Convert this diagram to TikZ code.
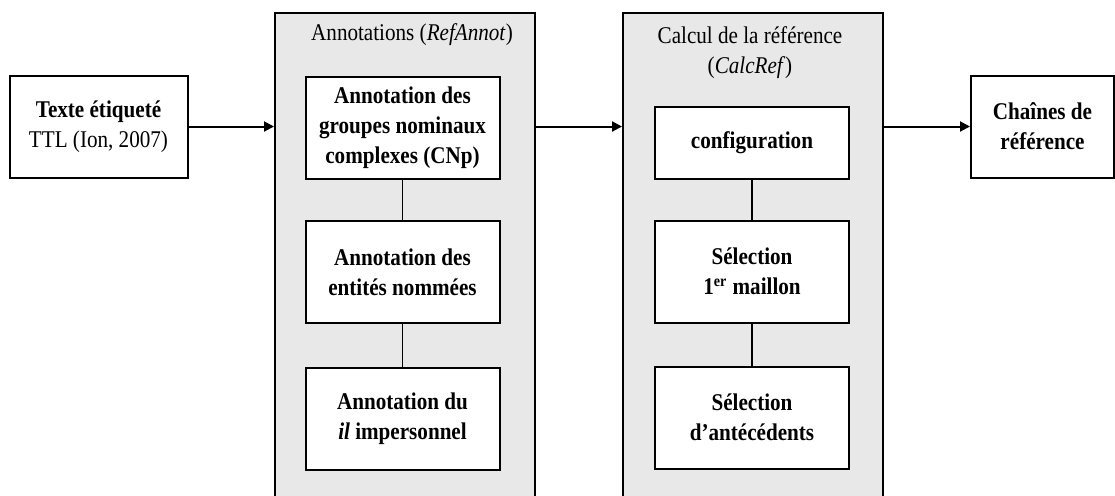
\documentclass[tikz,border=0pt]{standalone}
\usepackage{fontspec}
\setmainfont{Liberation Serif}[FakeStretch=0.88]
\usetikzlibrary{arrows.meta,positioning}

\tikzset{
  stepbox/.style={draw, line width=1pt, fill=white, align=center,
    inner sep=2pt, font=\fontsize{12}{15}\selectfont\bfseries},
  group/.style={draw, line width=1pt, fill=black!9, anchor=north,
    minimum width=130pt, minimum height=250pt},
  grouptitle/.style={align=center, font=\fontsize{12}{15}\selectfont},
  flow/.style={line width=1pt, -{Triangle[length=5pt,width=5pt]}},
  link/.style={line width=0.6pt}
}

\begin{document}
\begin{tikzpicture}[x=0.5pt,y=-0.5pt,on grid]
 \useasboundingbox (0,0) rectangle (1115,495);
 \clip (0,0) rectangle (1115,495);
 % input and output
 \node[stepbox,minimum width=89pt,minimum height=51pt] (input) at (98.5,126.5)
   {Texte étiqueté\\\mdseries TTL (Ion, 2007)};
 \node[stepbox,minimum width=71.5pt,minimum height=51pt] (output) at (1042.5,126.5)
   {Chaînes de\\référence};
 % the two modules
 \node[group] (annot) at (405,12) {};
 \node[group] (calc) at (753,12) {};
 \node[grouptitle] (annottitle) at (412,35) {Annotations (\textit{RefAnnot})};
 \node[grouptitle] (calctitle) at (750,53) {Calcul de la référence\\(\textit{CalcRef})};
 % RefAnnot steps
 \node[stepbox,minimum width=97pt,minimum height=51pt] (a1) at (402.5,128)
   {Annotation des\\groupes nominaux\\complexes (CNp)};
 \node[stepbox,minimum width=97pt,minimum height=51pt] (a2) [below=72pt of a1]
   {Annotation des\\entités nommées};
 \node[stepbox,minimum width=97pt,minimum height=51pt] (a3) [below=73.5pt of a2]
   {Annotation du\\\textit{il} impersonnel};
 % CalcRef steps
 \node[stepbox,minimum width=97pt,minimum height=36pt] (c1) at (752,143)
   {configuration};
 \node[stepbox,minimum width=97pt,minimum height=51pt] (c2) [below=64.25pt of c1]
   {Sélection\\1\textsuperscript{er} maillon};
 \node[stepbox,minimum width=97pt,minimum height=51pt] (c3) [below=73pt of c2]
   {Sélection\\d’antécédents};
 \path[link]
  (a1) edge (a2)
  (a2) edge (a3)
  (c1) edge (c2)
  (c2) edge (c3);
 \draw[flow] (input) -- (input -| annot.west);
 \draw[flow] (input -| annot.east) -- (input -| calc.west);
 \draw[flow] (input -| calc.east) -- (output);
\end{tikzpicture}
\end{document}
